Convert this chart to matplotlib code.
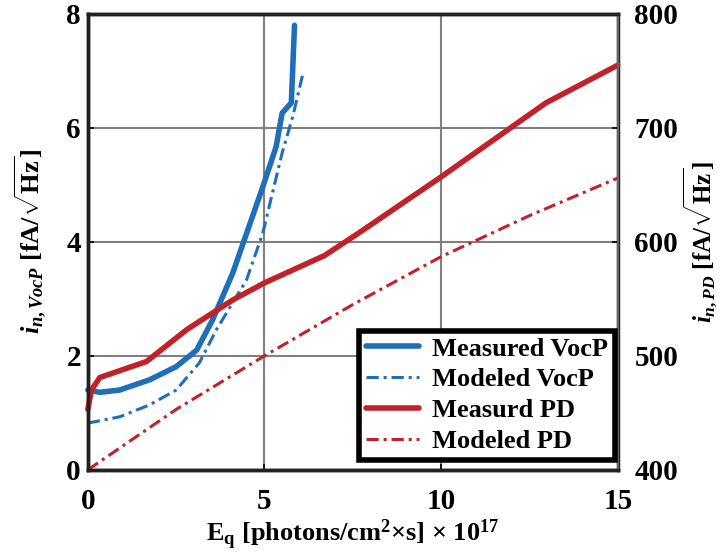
import matplotlib
matplotlib.use("Agg")
import matplotlib.pyplot as plt
import numpy as np

plt.rcParams['font.family'] = ['Liberation Serif', 'DejaVu Serif']
plt.rcParams['font.weight'] = 'bold'
plt.rcParams['mathtext.fontset'] = 'custom'
plt.rcParams['mathtext.rm'] = 'Liberation Serif:bold'
plt.rcParams['mathtext.bf'] = 'Liberation Serif:bold'
plt.rcParams['mathtext.it'] = 'Liberation Serif:italic:bold'

# measured VocP (left axis)
eq_meas_vocp = [0.0, 0.34, 0.9, 1.75, 2.5, 3.08, 3.53, 4.1, 4.95, 5.33, 5.5, 5.76, 5.85]
meas_vocp = [1.40, 1.36, 1.40, 1.58, 1.81, 2.10, 2.63, 3.45, 4.96, 5.67, 6.26, 6.44, 7.8]

# modeled VocP (left axis)
eq_mod_vocp = [0.0, 0.9, 1.75, 2.5, 3.16, 3.64, 4.1, 4.49, 4.95, 5.5, 5.8, 6.08]
mod_vocp = [0.82, 0.93, 1.14, 1.40, 1.88, 2.46, 2.93, 3.33, 4.15, 5.56, 6.2, 6.93]

# measured PD (right axis)
eq_meas_pd = [0.0, 0.1, 0.34, 1.0, 1.66, 2.8, 4.1, 5.0, 6.7, 7.68, 10.0, 12.97, 15.0]
meas_pd = [453, 470, 481, 488, 495, 523, 549, 564, 588, 608, 657, 722, 755]

# modeled PD (right axis)
eq_mod_pd = [0.0, 2.5, 5.0, 7.5, 10.0, 12.5, 15.0]
mod_pd = [400, 453, 500, 545, 587, 623, 656]

blue = '#1f6eb9'
red = '#c1222a'
dashdot = (0, (4, 1.6, 1, 1.6))

fig = plt.figure(figsize=(7.2, 5.56), dpi=100)
ax = fig.add_axes([0.122, 0.155, 0.736, 0.82])
ax2 = ax.twinx()

l1, = ax.plot(eq_meas_vocp, meas_vocp, color=blue, lw=4, solid_capstyle='round',
              clip_on=False, label='Measured VocP')
l2, = ax.plot(eq_mod_vocp, mod_vocp, color=blue, lw=2.2, linestyle=dashdot, label='Modeled VocP')
l3, = ax2.plot(eq_meas_pd, meas_pd, color=red, lw=4, solid_capstyle='round',
               clip_on=False, label='Measurd PD')
l4, = ax2.plot(eq_mod_pd, mod_pd, color=red, lw=2.2, linestyle=dashdot, label='Modeled PD')

ax.set_xlim(0, 15)
ax.set_ylim(0, 8)
ax2.set_ylim(400, 800)
ax.set_xticks([0, 5, 10, 15])
ax.set_yticks([0, 2, 4, 6, 8])
ax2.set_yticks([400, 500, 600, 700, 800])
ax.grid(True, color='#808080', lw=1.5)

for a in (ax, ax2):
    a.tick_params(direction='in', length=4, width=1.2, labelsize=21)
    for s in a.spines.values():
        s.set_linewidth(2.5)
        s.set_color('#222222')
ax2.spines['right'].set_color('#666666')
ax2.spines['right'].set_linewidth(1.5)
ax.tick_params(axis='x', pad=13)
ax.tick_params(axis='y', pad=5)
ax2.tick_params(axis='y', pad=12)

ax.set_xlabel(r'E$_\mathbf{q}$ [photons/cm$^\mathbf{2}$×s] × 10$^{\mathbf{17}}$',
              fontsize=19, fontweight='bold', labelpad=2)
ax.set_ylabel(r'$i_{n,VocP}$ [fA/$\sqrt{\mathbf{Hz}}$]', fontsize=19, fontweight='bold', labelpad=13)
ax2.set_ylabel(r'$i_{n,PD}$ [fA/$\sqrt{\mathbf{Hz}}$]', fontsize=18, fontweight='bold', labelpad=2)

leg = ax2.legend(handles=[l1, l2, l3, l4], loc='lower right', bbox_to_anchor=(0.994, 0.022),
                 prop={'weight': 'bold', 'size': 19}, fancybox=False, framealpha=1,
                 edgecolor='black', handlelength=2.0, borderpad=0.25, labelspacing=0.28,
                 handletextpad=0.5, borderaxespad=0)
leg.get_frame().set_linewidth(4)

fig.savefig('out.png', dpi=100)
